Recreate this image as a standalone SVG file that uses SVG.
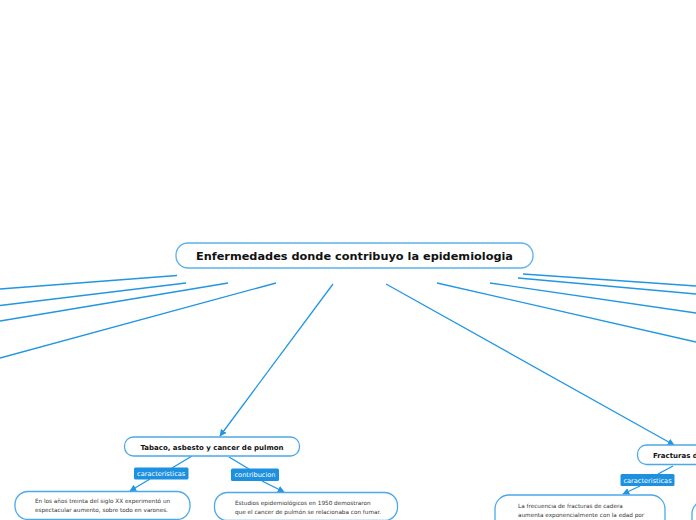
<svg xmlns="http://www.w3.org/2000/svg" width="696" height="520" viewBox="0 0 696 520">
<defs>
<style>
.node{fill:#fff;stroke:#4ba9ea;stroke-width:1.3}
.main{fill:#fff;stroke:#5bb1ec;stroke-width:1.3}
.title{font-family:"DejaVu Sans",Verdana,sans-serif;font-weight:bold;fill:#111;text-anchor:middle}
.body{font-family:"DejaVu Sans",Verdana,sans-serif;font-size:5.7px;fill:#333}
.lab{fill:#1d90e0}
.labt{font-family:"DejaVu Sans",Verdana,sans-serif;font-size:6.6px;fill:#fff;text-anchor:middle}
.c{stroke:#2196e3;stroke-width:1.3;fill:none}
</style>
<marker id="ah" viewBox="0 0 10 10" refX="9" refY="5" markerWidth="7" markerHeight="7" markerUnits="userSpaceOnUse" orient="auto">
<path d="M0,0 L10,5 L0,10 z" fill="#2196e3"/>
</marker>
</defs>
<rect width="696" height="520" fill="#fff"/>
<g id="connectors">
<line class="c" x1="177" y1="275.5" x2="0" y2="289"/>
<line class="c" x1="186" y1="283" x2="0" y2="305.5"/>
<line class="c" x1="228" y1="283" x2="0" y2="321"/>
<line class="c" x1="276" y1="283" x2="0" y2="358"/>
<line class="c" x1="333" y1="284" x2="220" y2="436" marker-end="url(#ah)"/>
<line class="c" x1="386" y1="284" x2="674" y2="445" marker-end="url(#ah)"/>
<line class="c" x1="437" y1="283" x2="696" y2="342"/>
<line class="c" x1="490" y1="283" x2="696" y2="313"/>
<line class="c" x1="518" y1="278" x2="696" y2="294"/>
<line class="c" x1="523" y1="274" x2="696" y2="286"/>
<line class="c" x1="192" y1="456" x2="172" y2="468"/>
<line class="c" x1="150" y1="479" x2="130" y2="491" marker-end="url(#ah)"/>
<line class="c" x1="229" y1="457" x2="249" y2="469"/>
<line class="c" x1="262" y1="481" x2="284" y2="492" marker-end="url(#ah)"/>
<line class="c" x1="673" y1="466" x2="658" y2="474"/>
<line class="c" x1="640" y1="486" x2="623" y2="494" marker-end="url(#ah)"/>
</g>
<g id="main">
<rect class="main" x="176" y="243" width="357" height="25" rx="12"/>
<text class="title" x="354.5" y="260" font-size="11.3">Enfermedades donde contribuyo la epidemiologia</text>
</g>
<g id="tabaco">
<rect class="node" x="124.5" y="437" width="175" height="19" rx="9"/>
<text class="title" x="212" y="449.5" font-size="7">Tabaco, asbesto y cancer de pulmon</text>
</g>
<g id="lab-caracteristicas-1">
<rect class="lab" x="134" y="467.5" width="54.5" height="12" rx="1.5"/>
<text class="labt" x="161.2" y="476">caracteristicas</text>
</g>
<g id="lab-contribucion">
<rect class="lab" x="231" y="468.5" width="48" height="12.5" rx="1.5"/>
<text class="labt" x="255" y="477.2">contribucion</text>
</g>
<g id="texto-1">
<rect class="node" x="15" y="491.5" width="175" height="28" rx="13"/>
<text class="body" x="35" y="503">En los años treinta del siglo XX experimentó un</text>
<text class="body" x="35" y="512">espectacular aumento, sobre todo en varones.</text>
</g>
<g id="texto-2">
<rect class="node" x="214.5" y="492.5" width="183" height="28" rx="13"/>
<text class="body" x="235" y="505">Estudios epidemiológicos en 1950 demostraron</text>
<text class="body" x="235" y="514">que el cancer de pulmón se relacionaba con fumar.</text>
</g>
<g id="fracturas">
<rect class="node" x="637.5" y="445" width="80" height="19.5" rx="9"/>
<text class="title" x="653" y="457.8" font-size="7" style="text-anchor:start">Fracturas de cadera</text>
</g>
<g id="lab-caracteristicas-2">
<rect class="lab" x="620.5" y="474" width="54" height="12" rx="1.5"/>
<text class="labt" x="647.5" y="482.5">caracteristicas</text>
</g>
<g id="texto-3">
<rect class="node" x="495" y="495" width="170" height="40" rx="14"/>
<text class="body" x="518" y="507.5">La frecuencia de fracturas de cadera</text>
<text class="body" x="518" y="516.5">aumenta exponencialmente con la edad por</text>
</g>
<g id="texto-4">
<rect class="node" x="692" y="500" width="60" height="40" rx="14"/>
</g>
</svg>
